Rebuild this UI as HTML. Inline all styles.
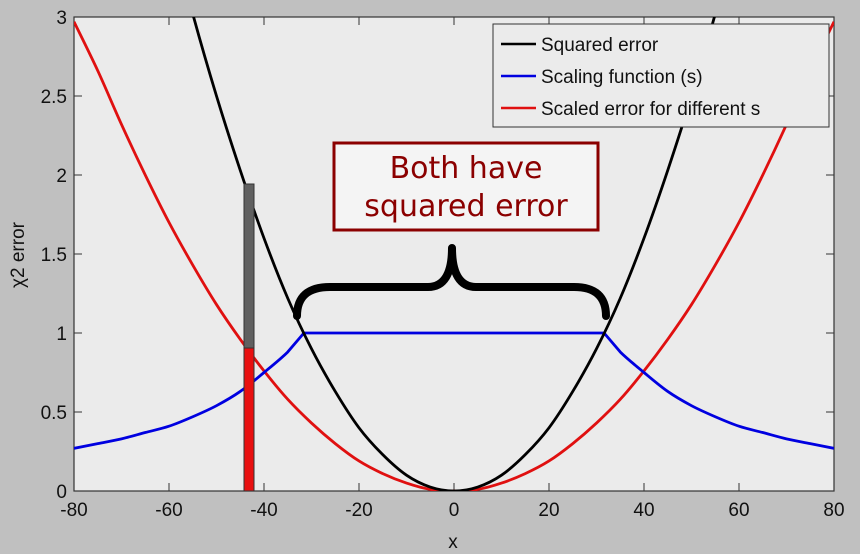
<!DOCTYPE html>
<html><head><meta charset="utf-8"><style>
html,body{margin:0;padding:0;background:#c0c0c0;}
svg{display:block;font-family:"Liberation Sans",sans-serif;}
</style></head><body>
<svg id="chart" width="860" height="554" viewBox="0 0 860 554">
<rect x="0" y="0" width="860" height="554" fill="#c0c0c0"/>
<defs><clipPath id="pc"><rect x="74" y="17" width="760" height="474"/></clipPath></defs>
<rect x="74" y="17" width="760" height="474" fill="#ebebeb" stroke="#333" stroke-width="1.2"/>
<g id="ticks"></g>
<g id="series" clip-path="url(#pc)"></g>
<rect x="244" y="184" width="10" height="164" fill="#606060" stroke="#333" stroke-width="1"/>
<rect x="244" y="348" width="10" height="143" fill="#e81010" stroke="#333" stroke-width="1"/>
<path d="M297,316 Q297,287 330,287 L428,287 Q452,287 452,248 Q452,287 476,287 L574,287 Q606,287 606,316" fill="none" stroke="#000" stroke-width="8" stroke-linecap="round" stroke-linejoin="round"/>
<g>
<rect x="334" y="143" width="264" height="87" fill="#f4f4f4" stroke="#8b0000" stroke-width="3"/>
<text x="466" y="178" text-anchor="middle" font-size="30" font-family="DejaVu Sans, sans-serif" fill="#8b0000">Both have</text>
<text x="466" y="216" text-anchor="middle" font-size="30" font-family="DejaVu Sans, sans-serif" fill="#8b0000">squared error</text>
</g>
<g>
<rect x="493" y="24" width="336" height="103" fill="#ebebeb" stroke="#333" stroke-width="1"/>
<line x1="501" y1="44" x2="536" y2="44" stroke="#000" stroke-width="2.5"/>
<text x="541" y="51" font-size="19" fill="#111">Squared error</text>
<line x1="501" y1="76" x2="536" y2="76" stroke="#0000e0" stroke-width="2.5"/>
<text x="541" y="83" font-size="19" fill="#111">Scaling function (s)</text>
<line x1="501" y1="108" x2="536" y2="108" stroke="#e01010" stroke-width="2.5"/>
<text x="541" y="115" font-size="19" fill="#111">Scaled error for different s</text>
</g>
<text x="453" y="548" text-anchor="middle" font-size="19" fill="#111">x</text>
<text transform="translate(24,255) rotate(-90)" text-anchor="middle" font-size="19" fill="#111">χ2 error</text>
</svg>
<script>
const xTicks=[-80,-60,-40,-20,0,20,40,60,80];
const yTicks=[0,0.5,1,1.5,2,2.5,3];
const yTickLabels=["0","0.5","1","1.5","2","2.5","3"];
const sqX=[-60,-55,-50,-45,-40,-35,-30,-25,-20,-15,-10,-5,0,5,10,15,20,25,30,35,40,45,50,55,60];
const sqY=[3.6,3.02,2.5,2.03,1.6,1.22,0.9,0.63,0.4,0.23,0.1,0.025,0,0.025,0.1,0.23,0.4,0.63,0.9,1.22,1.6,2.03,2.5,3.02,3.6];
const scX=[-80,-75,-70,-65,-60,-55,-50,-45,-40,-35,-31.6,31.6,35,40,45,50,55,60,65,70,75,80];
const scY=[0.27,0.30,0.33,0.37,0.41,0.47,0.54,0.63,0.75,0.88,1,1,0.88,0.75,0.63,0.54,0.47,0.41,0.37,0.33,0.30,0.27];
const seX=[-80,-75,-70,-65,-60,-55,-50,-45,-40,-35,-30,-25,-20,-15,-10,-5,0,5,10,15,20,25,30,35,40,45,50,55,60,65,70,75,80];
const seY=[2.97,2.66,2.32,2.0,1.70,1.43,1.18,0.96,0.76,0.58,0.43,0.30,0.19,0.11,0.05,0.01,0,0.01,0.05,0.11,0.19,0.30,0.43,0.58,0.76,0.96,1.18,1.43,1.70,2.0,2.32,2.66,2.97];
const NS="http://www.w3.org/2000/svg";
function xs(v){return 74+(v+80)/160*760;}
function ys(v){return 491-v/3*474;}
const tg=document.getElementById('ticks');
xTicks.forEach(function(t){
  const l=document.createElementNS(NS,'path');
  l.setAttribute('d','M'+xs(t)+',491v-8M'+xs(t)+',17v8');
  l.setAttribute('stroke','#333');
  
  
  tg.appendChild(l);
  const tx=document.createElementNS(NS,'text');
  tx.setAttribute('x',xs(t));tx.setAttribute('y',516);
  tx.setAttribute('text-anchor','middle');tx.setAttribute('font-size','19');tx.setAttribute('fill','#111');
  tx.textContent=String(t);
  
  
  tg.appendChild(tx);
});
yTicks.forEach(function(t,i){
  const l=document.createElementNS(NS,'path');
  l.setAttribute('d','M74,'+ys(t)+'h8M834,'+ys(t)+'h-8');
  l.setAttribute('stroke','#333');
  
  
  tg.appendChild(l);
  const tx=document.createElementNS(NS,'text');
  tx.setAttribute('x',67);tx.setAttribute('y',ys(t)+7);
  tx.setAttribute('text-anchor','end');tx.setAttribute('font-size','19');tx.setAttribute('fill','#111');
  tx.textContent=yTickLabels[i];
  
  
  tg.appendChild(tx);
});
const sg=document.getElementById('series');
function smoothPath(X,Y,breaks){
  const P=X.map(function(x,i){return [xs(x),ys(Y[i])];});
  let d='M'+P[0][0]+','+P[0][1];
  for(let i=0;i<P.length-1;i++){
    const p0=P[Math.max(i-1,0)],p1=P[i],p2=P[i+1],p3=P[Math.min(i+2,P.length-1)];
    if(breaks&&breaks(i)){d+=' L'+p2[0]+','+p2[1];continue;}
    const c1=[p1[0]+(p2[0]-p0[0])/6,p1[1]+(p2[1]-p0[1])/6];
    const c2=[p2[0]-(p3[0]-p1[0])/6,p2[1]-(p3[1]-p1[1])/6];
    d+=' C'+c1[0]+','+c1[1]+' '+c2[0]+','+c2[1]+' '+p2[0]+','+p2[1];
  }
  return d;
}
function line(X,Y,color,name,breaks){
  const p=document.createElementNS(NS,'path');
  p.setAttribute('d',smoothPath(X,Y,breaks));
  p.setAttribute('fill','none');p.setAttribute('stroke',color);p.setAttribute('stroke-width','2.8');
  p.setAttribute('stroke-linejoin','round');
  
  
  sg.appendChild(p);
}
line(seX,seY,'#e01010','scaled-error-line');
line(scX,scY,'#0000e0','scaling-function-line',function(i){return i>=9&&i<=11;});
line(sqX,sqY,'#000000','squared-error-line');
</script>
</body></html>
